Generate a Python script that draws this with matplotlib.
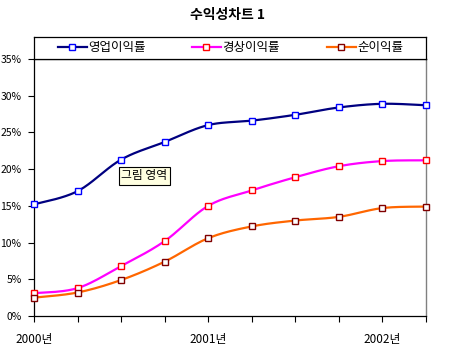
import numpy as np
import matplotlib
matplotlib.use("Agg")
import matplotlib.pyplot as plt
from matplotlib.lines import Line2D
from matplotlib.legend import Legend

plt.rcParams['font.family'] = ['Noto Sans CJK KR', 'DejaVu Sans']

title = "수익성차트 1"
series_names = ["영업이익률", "경상이익률", "순이익률"]
x_labels = ["2000년", "", "", "", "2001년", "", "", "", "2002년", ""]
op_margin = [15.2, 17.0, 21.3, 23.7, 26.0, 26.6, 27.4, 28.4, 28.9, 28.7]
ord_margin = [3.1, 3.8, 6.8, 10.2, 15.0, 17.1, 18.9, 20.4, 21.1, 21.2]
net_margin = [2.5, 3.2, 4.9, 7.4, 10.6, 12.2, 13.0, 13.5, 14.7, 14.9]
y_ticks = [0, 5, 10, 15, 20, 25, 30, 35]

line_colors = ["#000080", "#FF00FF", "#FF6600"]
marker_edges = ["#0000FF", "#FF0000", "#800000"]


def smooth(xs, ys, n=20):
    """Catmull-Rom style smoothing for drawing (like Excel smoothed lines)."""
    xs = np.asarray(xs, float)
    ys = np.asarray(ys, float)
    px = np.concatenate([[xs[0]], xs, [xs[-1]]])
    py = np.concatenate([[ys[0]], ys, [ys[-1]]])
    ox, oy = [], []
    t = np.linspace(0, 1, n, endpoint=False)
    for i in range(1, len(px) - 2):
        p0x, p1x, p2x, p3x = px[i - 1], px[i], px[i + 1], px[i + 2]
        p0y, p1y, p2y, p3y = py[i - 1], py[i], py[i + 1], py[i + 2]
        c1x = p1x + (p2x - p0x) / 6
        c1y = p1y + (p2y - p0y) / 6
        c2x = p2x - (p3x - p1x) / 6
        c2y = p2y - (p3y - p1y) / 6
        bx = ((1 - t) ** 3) * p1x + 3 * ((1 - t) ** 2) * t * c1x + 3 * (1 - t) * t ** 2 * c2x + t ** 3 * p2x
        by = ((1 - t) ** 3) * p1y + 3 * ((1 - t) ** 2) * t * c1y + 3 * (1 - t) * t ** 2 * c2y + t ** 3 * p2y
        ox.extend(bx)
        oy.extend(by)
    ox.append(xs[-1])
    oy.append(ys[-1])
    return np.array(ox), np.array(oy)


fig = plt.figure(figsize=(4.5, 3.48), dpi=100)
fig.patch.set_facecolor("white")

W, H = 450, 348
ax = fig.add_axes([34 / W, (H - 316) / H, (426 - 34) / W, (316 - 59) / H])
x = np.arange(len(x_labels))

for vals, lc, me in zip([op_margin, ord_margin, net_margin], line_colors, marker_edges):
    sx, sy = smooth(x, vals)
    ax.plot(sx, sy, color=lc, lw=1.6, zorder=2, clip_on=False)
    ax.plot(x, vals, ls="none", marker="s", ms=5, mfc="white", mec=me, mew=1.0,
            zorder=3, clip_on=False)

ax.set_xlim(0, len(x_labels) - 1)
ax.set_ylim(0, 35)
ax.set_yticks(y_ticks)
ax.set_yticklabels([f"{v}%" for v in y_ticks], fontsize=7.5)
ax.set_xticks(x)
ax.set_xticklabels(x_labels, fontsize=8.5)
ax.tick_params(axis="y", direction="out", length=4, pad=5, width=0.8)
ax.tick_params(axis="x", direction="out", length=4, pad=8, width=0.8)
for s in ["left", "bottom", "top"]:
    ax.spines[s].set_color("black")
    ax.spines[s].set_linewidth(0.9)
ax.spines["right"].set_color("#808080")
ax.spines["right"].set_linewidth(1.0)

ax.text(2.53, 19.1, "그림 영역", fontsize=8.5, ha="center", va="center", zorder=5,
        bbox=dict(boxstyle="square,pad=0.2", fc="#FFFFE1", ec="black", lw=0.8))

# legend box
lax = fig.add_axes([34 / W, (H - 59) / H, (426 - 34) / W, (59 - 37) / H])
lax.set_xticks([])
lax.set_yticks([])
for s in lax.spines.values():
    s.set_color("black")
    s.set_linewidth(0.9)
entry_x = [(58 - 34) / 392, (192 - 34) / 392, (327 - 34) / 392]
for name, lc, me, ex in zip(series_names, line_colors, marker_edges, entry_x):
    h = Line2D([], [], color=lc, lw=1.6, marker="s", ms=5, mfc="white", mec=me, mew=1.0)
    leg = Legend(lax, [h], [name], loc="center left", bbox_to_anchor=(ex, 0.5),
                 frameon=False, fontsize=9, handlelength=2.3, handletextpad=0.15,
                 borderpad=0, borderaxespad=0)
    lax.add_artist(leg)

fig.text(227 / W, 1 - 15 / H, title, fontsize=10, fontweight="bold", ha="center", va="center")

fig.savefig("out.png", dpi=100)
